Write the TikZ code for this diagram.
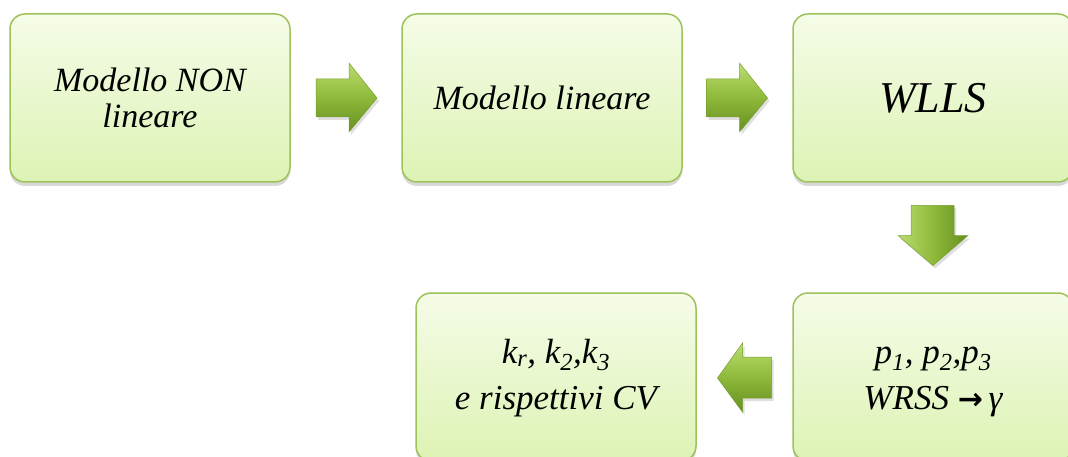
\documentclass[tikz,border=0pt]{standalone}
\usepackage{fontspec}
\setmainfont{Liberation Serif}[ItalicFont={Liberation Serif Italic}, BoldFont={Liberation Serif Bold}]
\newfontfamily\arrowfont{DejaVu Sans}
\usetikzlibrary{shadows,calc}
\definecolor{boxtop}{HTML}{F5FCE8}
\definecolor{boxbot}{HTML}{DDF3B4}
\definecolor{boxline}{HTML}{9DC25A}
\definecolor{arrtop}{HTML}{BCDC70}
\definecolor{arrmid}{HTML}{8EB93A}
\definecolor{arrbot}{HTML}{668F22}
\definecolor{arrline}{HTML}{789F30}
\tikzset{
  stagebox/.style={rectangle, rounded corners=15pt, draw=boxline, line width=1.5pt,
    top color=boxtop, bottom color=boxbot, minimum width=280pt, minimum height=168pt,
    align=center, font=\fontsize{34}{36}\selectfont\itshape,
    drop shadow={shadow xshift=0pt, shadow yshift=-4pt, opacity=0.25, fill=black!60}},
  blockarrow/.style={draw=arrline, line width=0.5pt, top color=arrtop, bottom color=arrbot, middle color=arrmid,
    drop shadow={shadow xshift=2pt, shadow yshift=-3pt, opacity=0.25}},
  blockarrowv/.style={draw=arrline, line width=0.5pt, left color=arrtop, right color=arrbot, middle color=arrmid,
    drop shadow={shadow xshift=2pt, shadow yshift=-3pt, opacity=0.25}}
}
\begin{document}
\begin{tikzpicture}[x=1pt,y=-1pt]
\useasboundingbox (0,0) rectangle (1068,457);
\node[stagebox] (b1) at (150,98) {Modello NON\\lineare};
\node[stagebox] (b2) at (542,98) {Modello lineare};
\node[stagebox, font=\fontsize{44}{46}\selectfont\itshape] (b3) at (933,98) {WLLS};
\node[stagebox, font=\fontsize{35}{46}\selectfont\itshape] (b4) at (933,377)
  {\raisebox{-6pt}{\begin{tabular}{@{}c@{}}p\textsubscript{1}, p\textsubscript{2},p\textsubscript{3}\\WRSS {\arrowfont\bfseries\fontsize{30}{36}\selectfont →}\,γ\end{tabular}}};
\node[stagebox, font=\fontsize{35}{46}\selectfont\itshape] (b5) at (556,377)
  {\raisebox{-6pt}{\begin{tabular}{@{}c@{}}k\textsubscript{r}, k\textsubscript{2},k\textsubscript{3}\\e rispettivi CV\end{tabular}}};
% right arrow b1 -> b2
\coordinate (a1) at ($(b1.east)!0.5!(b2.west)$);
\path[blockarrow] ($(a1)+(-30,-19)$) -- ++(33,0) -- ++(0,-16) -- ++(28,35) -- ++(-28,34) -- ++(0,-15) -- ++(-33,0) -- cycle;
% right arrow b2 -> b3
\coordinate (a2) at ($(b2.east)!0.5!(b3.west)$);
\path[blockarrow] ($(a2)+(-31,-19)$) -- ++(33,0) -- ++(0,-16) -- ++(28,35) -- ++(-28,34) -- ++(0,-15) -- ++(-33,0) -- cycle;
% down arrow b3 -> b4
\coordinate (a3) at ($(b3.south)!0.5!(b4.north)$);
\path[blockarrowv] ($(a3)+(-22,-32)$) -- ++(43,0) -- ++(0,30) -- ++(14,0) -- ++(-35,30) -- ++(-35,-30) -- ++(13,0) -- cycle;
% left arrow b4 -> b5
\coordinate (a4) at ($(b4.west)!0.5!(b5.east)$);
\path[blockarrow] ($(a4)+(27,-20)$) -- ++(-29,0) -- ++(0,-14) -- ++(-25,35) -- ++(25,34) -- ++(0,-14) -- ++(29,0) -- cycle;
\end{tikzpicture}
\end{document}
